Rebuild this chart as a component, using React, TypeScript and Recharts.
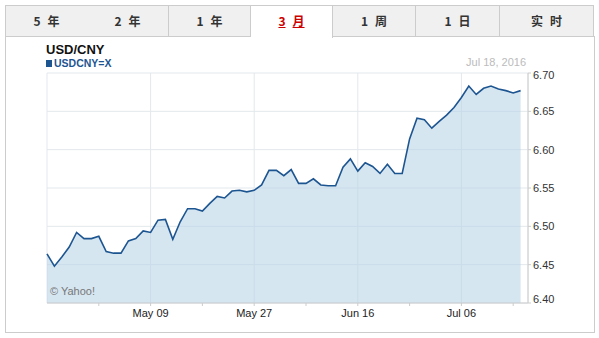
import React from 'react';
import { AreaChart, Area, XAxis, YAxis, CartesianGrid } from 'recharts';

// weekdays, Apr 19 .. Jul 18 2016
const dates = [
  'Apr 19', 'Apr 20', 'Apr 21', 'Apr 22', 'Apr 25', 'Apr 26', 'Apr 27', 'Apr 28', 'Apr 29',
  'May 02', 'May 03', 'May 04', 'May 05', 'May 06', 'May 09', 'May 10', 'May 11', 'May 12',
  'May 13', 'May 16', 'May 17', 'May 18', 'May 19', 'May 20', 'May 23', 'May 24', 'May 25',
  'May 26', 'May 27', 'May 30', 'May 31', 'Jun 01', 'Jun 02', 'Jun 03', 'Jun 06', 'Jun 07',
  'Jun 08', 'Jun 09', 'Jun 10', 'Jun 13', 'Jun 14', 'Jun 15', 'Jun 16', 'Jun 17', 'Jun 20',
  'Jun 21', 'Jun 22', 'Jun 23', 'Jun 24', 'Jun 27', 'Jun 28', 'Jun 29', 'Jun 30', 'Jul 01',
  'Jul 04', 'Jul 05', 'Jul 06', 'Jul 07', 'Jul 08', 'Jul 11', 'Jul 12', 'Jul 13', 'Jul 14',
  'Jul 15', 'Jul 18',
];

const rates = [
  6.464, 6.448, 6.46, 6.473, 6.492, 6.484, 6.484, 6.487, 6.467,
  6.465, 6.465, 6.481, 6.484, 6.494, 6.492, 6.508, 6.509, 6.483,
  6.506, 6.523, 6.523, 6.52, 6.53, 6.539, 6.537, 6.546, 6.547,
  6.545, 6.547, 6.554, 6.573, 6.573, 6.566, 6.574, 6.556, 6.556,
  6.562, 6.554, 6.553, 6.553, 6.577, 6.588, 6.572, 6.583, 6.578,
  6.569, 6.581, 6.569, 6.569, 6.614, 6.641, 6.639, 6.628, 6.637,
  6.645, 6.655, 6.668, 6.683, 6.672, 6.68, 6.683, 6.679, 6.677,
  6.674, 6.677,
];

const yTicks = [6.4, 6.45, 6.5, 6.55, 6.6, 6.65, 6.7];
const minorTicks = [7, 14, 21, 28, 35, 42, 49, 56, 63];
const gridTicks = [0, 14, 28, 42, 56];

const tabs = ['5 年', '2 年', '1 年', '3 月', '1 周', '1 日', '实 时'];
const tabWidths = [82, 82, 82, 82, 83, 84, 94];
const activeTab = 3;

const data = dates.map((date, i) => ({ i, date, rate: rates[i] }));

const FONT = '"Liberation Sans", Arial, sans-serif';
const BLUE = '#1d5591';

function YTick(props: any) {
  const { x, y, payload, index } = props;
  let dy = 4;
  if (index === 0) dy = 0;
  if (index === yTicks.length - 1) dy = 6;
  return (
    <text x={x} y={y} dy={dy} fill="#333" fontSize={11} fontFamily={FONT} textAnchor="start">
      {payload.value.toFixed(2)}
    </text>
  );
}

export default function App() {
  let left = 5;
  return (
    <div style={{ position: 'absolute', left: 0, top: 0, width: 599, height: 338, background: '#fff', fontFamily: FONT }}>
      {/* panel */}
      <div style={{ position: 'absolute', left: 5, top: 36, width: 588, height: 295, border: '1px solid #ccc' }} />
      {tabs.map((t, k) => {
        const w = tabWidths[k];
        const x = left;
        left += w;
        const active = k === activeTab;
        const [a, b] = t.split(' ');
        return (
          <div
            key={t}
            style={{
              position: 'absolute',
              left: x,
              top: 5,
              width: w - 1,
              height: active ? 32 : 30,
              borderTop: '1px solid #ccc',
              borderLeft: k === 0 ? '1px solid #ccc' : 'none',
              borderRight: '1px solid #ccc',
              borderBottom: active ? 'none' : '1px solid #ccc',
              background: active ? '#fff' : '#f0f0f0',
              color: active ? '#cc0000' : '#333',
              fontFamily: '"Noto Sans CJK SC", sans-serif',
              fontWeight: 700,
              fontSize: 12,
              lineHeight: '30px',
              textAlign: 'center',
              boxSizing: 'content-box',
            }}
          >
            <span style={{ textDecoration: active ? 'underline' : 'none' }}>
              {a}
              <span style={{ display: 'inline-block', width: 7 }}>{' '}</span>
              {b}
            </span>
          </div>
        );
      })}
      <div style={{ position: 'absolute', left: 0, top: 0 }}>
        <AreaChart width={599} height={338} data={data} margin={{ top: 73, right: 31, bottom: 5, left: 47 }}>
          <CartesianGrid xAxisId="grid" stroke="#e3e8ec" />
          <XAxis xAxisId="grid" type="number" dataKey="i" domain={[0, 65]} ticks={gridTicks} hide />
          <XAxis
            type="number"
            dataKey="i"
            domain={[0, 65]}
            ticks={minorTicks}
            interval={0}
            tickFormatter={(v: number) => (v % 14 === 0 ? dates[v] : '')}
            height={30}
            tickSize={3}
            tickMargin={3}
            axisLine={{ stroke: '#ccc' }}
            tickLine={{ stroke: '#ccc' }}
            tick={{ fill: '#222', fontSize: 11, fontFamily: FONT }}
          />
          <YAxis
            orientation="right"
            domain={[6.4, 6.7]}
            ticks={yTicks}
            interval={0}
            width={40}
            tickSize={3}
            tickMargin={2}
            axisLine={{ stroke: '#ccc' }}
            tickLine={{ stroke: '#ccc' }}
            tick={<YTick />}
          />
          <Area
            type="linear"
            dataKey="rate"
            stroke={BLUE}
            strokeWidth={1.6}
            fill="#b4d1e5"
            fillOpacity={0.55}
            dot={false}
            activeDot={false}
            isAnimationActive={false}
          />
        </AreaChart>
      </div>
      <div style={{ position: 'absolute', left: 46, top: 42, fontSize: 13, fontWeight: 700, color: '#111' }}>USD/CNY</div>
      <div style={{ position: 'absolute', left: 46, top: 60, width: 6, height: 7, background: BLUE }} />
      <div style={{ position: 'absolute', left: 54, top: 57, fontSize: 10.5, fontWeight: 700, color: BLUE }}>USDCNY=X</div>
      <div style={{ position: 'absolute', right: 599 - 526, top: 56, fontSize: 11, color: '#bbb' }}>Jul 18, 2016</div>
      <div style={{ position: 'absolute', left: 50, top: 285, fontSize: 11, color: '#777' }}>© Yahoo!</div>
    </div>
  );
}
